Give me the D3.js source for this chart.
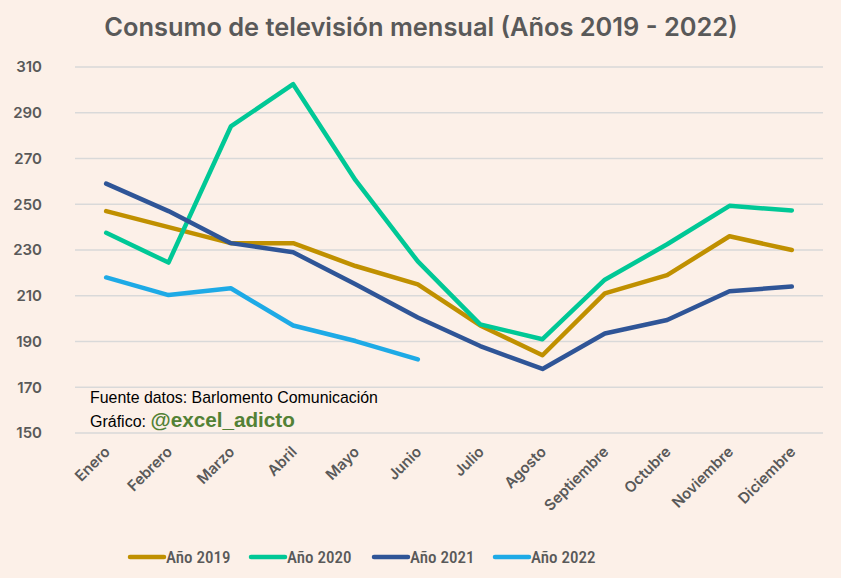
<!DOCTYPE html>
<html><head><meta charset="utf-8">
<script src="https://cdn.jsdelivr.net/npm/d3@7"></script>
<style>
html,body{margin:0;padding:0;background:#FCF0E8;}
svg{display:block;}
</style></head>
<body>
<svg id="chart" width="841" height="578"></svg>
<script>
const months = ["Enero","Febrero","Marzo","Abril","Mayo","Junio","Julio","Agosto","Septiembre","Octubre","Noviembre","Diciembre"];
const y2019 = [247, 240, 233, 233, 223, 215, 197, 184, 211, 219, 236, 230];
const y2020 = [237.5, 224.5, 284, 302.5, 260.5, 225, 197.5, 191, 217, 232.5, 249.3, 247.3];
const y2021 = [259, 247, 233, 229, 215, 200.5, 188, 178, 193.5, 199.4, 212, 214];
const y2022 = [218, 210.3, 213.3, 197, 190.2, 182.2];
const yTicks = [150, 170, 190, 210, 230, 250, 270, 290, 310];
const seriesNames = ["Año 2019","Año 2020","Año 2021","Año 2022"];
const colors = ["#C09000","#00C896","#2F5597","#1EAAE6"];
const series = [y2019, y2020, y2021, y2022];

const svg = d3.select("#chart");
const W = 841, H = 578;
svg.append("rect").attr("width",W).attr("height",H).attr("fill","#FCF0E8");

const x = d3.scaleBand().domain(months).range([75, 823]);
const y = d3.scaleLinear().domain([150, 310]).range([433, 67]);
const cx = m => x(m) + x.bandwidth()/2;
const F = "Inter, 'Noto Sans', sans-serif";

// title
svg.append("text").attr("x", 421).attr("y", 36).attr("text-anchor","middle")
  .attr("font-family", F).attr("font-weight",600).attr("font-size", 25.4)
  .attr("fill","#595959").text("Consumo de televisión mensual (Años 2019 - 2022)");

// gridlines
svg.append("g").selectAll("line").data(yTicks).join("line")
  .attr("x1",75).attr("x2",823).attr("y1",d=>y(d)).attr("y2",d=>y(d))
  .attr("stroke","#D9D9D9").attr("stroke-width",1.5);

// y axis
const yAxis = d3.axisLeft(y).tickValues(yTicks).tickSize(0).tickPadding(0);
const gy = svg.append("g").attr("transform","translate(42,0)").call(yAxis);
gy.select(".domain").remove();
gy.selectAll("text").attr("font-family",F).attr("font-weight",600)
  .attr("font-size",15).attr("fill","#595959");

// x axis
const xAxis = d3.axisBottom(x).tickSize(0).tickPadding(0);
const gx = svg.append("g").attr("transform","translate(0,446)").call(xAxis);
gx.select(".domain").remove();
gx.selectAll("text").attr("font-family",F).attr("font-weight",600)
  .attr("font-size",15).attr("fill","#595959")
  .attr("text-anchor","end").attr("dy","0.35em")
  .attr("transform","translate(1,3) rotate(-45)");

// lines
const line = d3.line().x((d,i)=>cx(months[i])).y(d=>y(d));
series.forEach((s,k)=>{
  svg.append("path").datum(s).attr("d",line).attr("fill","none")
    .attr("stroke",colors[k]).attr("stroke-width",4.5)
    .attr("stroke-linejoin","round").attr("stroke-linecap","round");
});

// annotation
svg.append("text").attr("x",90).attr("y",403).attr("font-family","'Liberation Sans',Arial,sans-serif")
  .attr("font-size",15.9).attr("fill","#000").text("Fuente datos: Barlomento Comunicación");
const t2 = svg.append("text").attr("x",90).attr("y",427).attr("font-family","'Liberation Sans',Arial,sans-serif")
  .attr("font-size",16).attr("fill","#000");
t2.append("tspan").text("Gráfico: ");
t2.append("tspan").attr("font-weight","bold").attr("font-size",20.7).attr("fill","#538135").text("@excel_adicto");

// legend
const legX = [130, 251, 374, 495];
const leg = svg.append("g").selectAll("g").data(seriesNames).join("g")
  .attr("transform",(d,i)=>`translate(${legX[i]},557)`);
leg.append("line").attr("x1",0).attr("x2",34).attr("y1",0).attr("y2",0)
  .attr("stroke",(d,i)=>colors[i]).attr("stroke-width",4.5).attr("stroke-linecap","round");
leg.append("text").attr("x",36).attr("y",0).attr("dy","0.36em")
  .attr("font-family","Roboto, sans-serif").attr("font-stretch","condensed").attr("font-weight",500).attr("font-size",17)
  .attr("fill","#595959").text(d=>d);
</script>
</body></html>
